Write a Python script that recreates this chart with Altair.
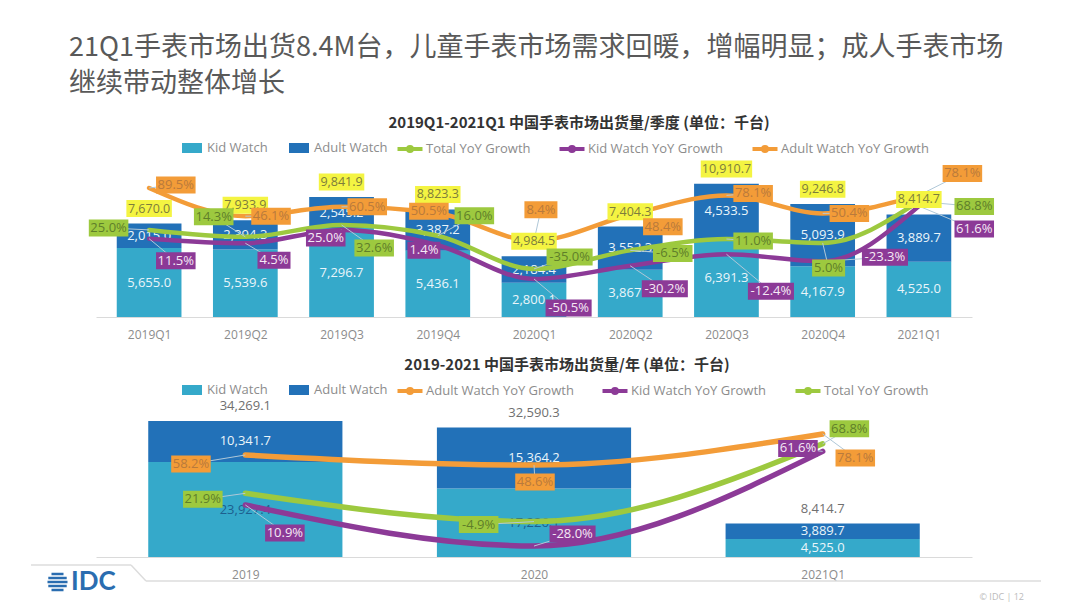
import json
import altair as alt
import pandas as pd

# ---------------- data ----------------
heading = ["21Q1手表市场出货8.4M台，儿童手表市场需求回暖，增幅明显；成人手表市场",
           "继续带动整体增长"]
q_title = "2019Q1-2021Q1 中国手表市场出货量/季度 (单位：千台)"
y_title = "2019-2021 中国手表市场出货量/年 (单位：千台)"

quarters = ["2019Q1", "2019Q2", "2019Q3", "2019Q4", "2020Q1",
            "2020Q2", "2020Q3", "2020Q4", "2021Q1"]
q_kid = [5655.0, 5539.6, 7296.7, 5436.1, 2800.1, 3867.0, 6391.3, 4167.9, 4525.0]
q_adult = [2015.0, 2394.3, 2545.2, 3387.2, 2184.4, 3552.3, 4533.5, 5093.9, 3889.7]
q_total = [7670.0, 7933.9, 9841.9, 8823.3, 4984.5, 7404.3, 10910.7, 9246.8, 8414.7]
q_total_yoy = [25.0, 14.3, 32.6, 16.0, -35.0, -6.5, 11.0, 5.0, 68.8]
q_kid_yoy = [11.5, 4.5, 25.0, 1.4, -50.5, -30.2, -12.4, -23.3, 61.6]
q_adult_yoy = [89.5, 46.1, 60.5, 50.5, 8.4, 48.4, 78.1, 50.4, 78.1]

years = ["2019", "2020", "2021Q1"]
y_kid = [23927.4, 17226.1, 4525.0]
y_adult = [10341.7, 15364.2, 3889.7]
y_total = [34269.1, 32590.3, 8414.7]
y_adult_yoy = [58.2, 48.6, 78.1]
y_kid_yoy = [10.9, -28.0, 61.6]
y_total_yoy = [21.9, -4.9, 68.8]

TOT = "Total YoY Growth"
KYOY = "Kid Watch YoY Growth"
AYOY = "Adult Watch YoY Growth"

# ---------------- layout / style ----------------
# callout offsets (px) of each growth label from its point
q_offsets = {
    AYOY: [(27, -3), (26, 0), (26, 0), (-9, -2), (7, -31), (33, 12), (27, -2), (27, 0), (44, -22)],
    TOT: [(-41, -2), (-32, -20), (33, 23), (37, -20), (36, -12), (43, 3), (27, 2), (6, 25), (56, 5)],
    KYOY: [(27, 22), (29, 17), (-16, 8), (-14, 5), (35, 29), (35, 23), (45, 37), (63, -4), (56, 23)],
}
y_offsets = {
    AYOY: [(-55, 9), (1, 17), (33, 24)],
    TOT: [(-43, 6), (-56, 3), (27, -15)],
    KYOY: [(40, 28), (39, -12), (-25, -3)],
}

FONT = "Open Sans, Noto Sans CJK SC, sans-serif"
CJK = "Noto Sans CJK SC, sans-serif"
KID = "#35A9CA"
ADULT = "#2271B8"
LINE_COL = {TOT: "#9DC93F", KYOY: "#8C3A97", AYOY: "#F39C38"}
BOX_TXT = {TOT: "#5F7F2A", KYOY: "#F5E9F5", AYOY: "#B97A3C"}
YELLOW = "#F4F442"
YELLOW_TXT = "#7D7D3C"
LIGHT = "#EAF5FA"
DARKBLUE = "#1D5F8F"
LEADER = "#B0C8D8"
GREY = "#8C8C8C"
IDC_BLUE = "#2A6DB0"

W = 876
BAR_SYM = "M-1,-0.5L1,-0.5L1,0.5L-1,0.5Z"
LINE_SYM = ("M-1.25,0L1.25,0M-0.2,0A0.2,0.2,0,1,1,0.2,0A0.2,0.2,0,1,1,-0.2,0")
GLOBE = ("M-0.6,-0.93L0.6,-0.93L0.6,-0.67L-0.6,-0.67Z"
         "M-0.92,-0.53L0.92,-0.53L0.92,-0.27L-0.92,-0.27Z"
         "M-1,-0.13L1,-0.13L1,0.13L-1,0.13Z"
         "M-0.92,0.27L0.92,0.27L0.92,0.53L-0.92,0.53Z"
         "M-0.6,0.67L0.6,0.67L0.6,0.93L-0.6,0.93Z")


def legend_common(**kw):
    base = dict(orient="none", direction="horizontal", title=None, symbolSize=400,
                labelFont=FONT, labelFontSize=13, labelColor=GREY,
                columnPadding=20, labelOffset=4)
    base.update(kw)
    return alt.Legend(**base)


def build_panel(cats, kid, adult, total, yoy, offsets, order, H, bar_max, line_dom,
                title, title_dx, leg_y, line_w, boxed_total, extra=()):
    n = len(cats)
    pxx = W / n
    pyb = H / bar_max
    pyl = H / (line_dom[1] - line_dom[0])
    xs = alt.Scale(domain=[-0.5, n - 0.5], nice=False, zero=False)
    ybs = alt.Scale(domain=[0, bar_max], nice=False)
    yls = alt.Scale(domain=line_dom, nice=False, zero=False)
    xaxis = alt.Axis(values=list(range(n)), labelExpr=f"{json.dumps(cats)}[datum.value]",
                     title=None, grid=False, ticks=False, tickSize=0, domainColor="#DADADA",
                     labelColor=GREY, labelFontSize=12, labelFont=FONT, labelPadding=12,
                     labelFlush=False, labelOverlap=False)

    def X(f):
        return alt.X(f, scale=xs, axis=xaxis)

    # bars
    rows = []
    for i in range(n):
        rows.append(dict(i=i, series="Kid Watch", y0=0.0, y1=kid[i], val=kid[i]))
        rows.append(dict(i=i, series="Adult Watch", y0=kid[i], y1=kid[i] + adult[i], val=adult[i]))
    dfb = pd.DataFrame(rows)
    dfb["mid"] = (dfb["y0"] + dfb["y1"]) / 2
    dfb["txt"] = [f"{v:,.1f}" for v in dfb["val"]]

    bars = alt.Chart(dfb).mark_bar(size=pxx * 0.665).encode(
        x=X("i:Q"),
        y=alt.Y("y1:Q", scale=ybs, axis=None), y2="y0:Q",
        color=alt.Color("series:N",
                        scale=alt.Scale(domain=["Kid Watch", "Adult Watch"], range=[KID, ADULT]),
                        legend=legend_common(legendX=85, legendY=leg_y, symbolType=BAR_SYM)),
    )
    btext = alt.Chart(dfb).mark_text(fontSize=13, font=FONT).encode(
        x=X("i:Q"), y=alt.Y("mid:Q", scale=ybs, axis=None), text="txt:N",
        color=alt.condition("datum.series == 'Kid Watch' && datum.val > 10000",
                            alt.value(DARKBLUE), alt.value(LIGHT)),
    )
    bar_group = alt.layer(bars, btext)

    # totals above the bars (drawn on top of the growth lines)
    dft = pd.DataFrame(dict(i=list(range(n)), total=total,
                            txt=[f"{v:,.1f}" for v in total]))
    tbase = alt.Chart(dft).transform_calculate(
        ty=f"datum.total + 15 / {pyb}",
        y1=f"datum.total + 6.5 / {pyb}",
        y2=f"datum.total + 23.5 / {pyb}",
        w="length(datum.txt) * 6 + 4",
    ).transform_calculate(
        x1=f"datum.i - datum.w / 2 / {pxx}",
        x2=f"datum.i + datum.w / 2 / {pxx}",
    )
    tot_layers = []
    if boxed_total:
        tot_layers.append(tbase.mark_rect(color=YELLOW).encode(
            x=X("x1:Q"), x2="x2:Q", y=alt.Y("y1:Q", scale=ybs, axis=None), y2="y2:Q"))
        tot_layers.append(tbase.mark_text(fontSize=12.5, font=FONT, color=YELLOW_TXT).encode(
            x=X("i:Q"), y=alt.Y("ty:Q", scale=ybs, axis=None), text="txt:N"))
    else:
        tot_layers.append(tbase.mark_text(fontSize=13, font=FONT, color="#707070").encode(
            x=X("i:Q"), y=alt.Y("ty:Q", scale=ybs, axis=None), text="txt:N"))
    tot_group = alt.layer(*tot_layers)

    # lines
    lrows, labrows = [], []
    for s in order:
        for i in range(n):
            lrows.append(dict(i=i, series=s, v=yoy[s][i]))
            dx, dy = offsets[s][i]
            labrows.append(dict(i=i, series=s, v=yoy[s][i], dx=dx, dy=dy,
                                txt=f"{yoy[s][i]:.1f}%"))
    dfl = pd.DataFrame(lrows)
    dflab = pd.DataFrame(labrows)

    lines = alt.Chart(dfl).mark_line(interpolate="monotone", strokeWidth=line_w,
                                     strokeCap="round").encode(
        x=X("i:Q"), y=alt.Y("v:Q", scale=yls, axis=None),
        stroke=alt.Stroke("series:N",
                          scale=alt.Scale(domain=order, range=[LINE_COL[s] for s in order]),
                          legend=legend_common(legendX=302, legendY=leg_y, symbolType=LINE_SYM,
                                               symbolStrokeWidth=4)),
        order="i:Q",
    )
    lab = alt.Chart(dflab).transform_calculate(
        cx=f"datum.i + datum.dx / {pxx}",
        cy=f"datum.v - datum.dy / {pyl}",
        w="length(datum.txt) * 6.6 + 7",
    ).transform_calculate(
        x1=f"datum.cx - datum.w / 2 / {pxx}",
        x2=f"datum.cx + datum.w / 2 / {pxx}",
        y1=f"datum.cy - 8.5 / {pyl}",
        y2=f"datum.cy + 8.5 / {pyl}",
    )
    leaders = lab.mark_rule(color=LEADER, strokeWidth=1).encode(
        x=X("i:Q"), x2="cx:Q", y=alt.Y("v:Q", scale=yls, axis=None), y2="cy:Q")
    line_layers = [lines, leaders]
    lab_layers = []
    for s in order:
        sub = lab.transform_filter(f"datum.series == '{s}'")
        lab_layers.append(sub.mark_rect(color=LINE_COL[s]).encode(
            x=X("x1:Q"), x2="x2:Q", y=alt.Y("y1:Q", scale=yls, axis=None), y2="y2:Q"))
        lab_layers.append(sub.mark_text(fontSize=13, font=FONT, color=BOX_TXT[s]).encode(
            x=X("cx:Q"), y=alt.Y("cy:Q", scale=yls, axis=None), text="txt:N"))
    line_group = alt.layer(*line_layers)
    lab_group = alt.layer(*lab_layers)

    groups = [bar_group, line_group, tot_group, lab_group] + list(extra)
    return alt.layer(*groups).resolve_scale(y="independent").properties(
        width=W, height=H,
        title=alt.TitleParams(text=title, font=CJK, fontSize=15, fontWeight="bold",
                              color="#333333", anchor="middle", dx=title_dx, offset=6),
    )


# footer decorations (page furniture, not data)
one = pd.DataFrame({"k": [0]})
footer = alt.layer(
    alt.Chart(one).mark_rule(color="#DCDCDC", strokeWidth=1.5).encode(
        x=alt.value(-65), x2=alt.value(35), y=alt.value(166)),
    alt.Chart(one).mark_rule(color="#DCDCDC", strokeWidth=1.5).encode(
        x=alt.value(35), x2=alt.value(50), y=alt.value(166), y2=alt.value(182)),
    alt.Chart(one).mark_rule(color="#DCDCDC", strokeWidth=1.5).encode(
        x=alt.value(50), x2=alt.value(945), y=alt.value(182)),
    alt.Chart(one).mark_point(shape=GLOBE, filled=True, size=400, color=IDC_BLUE, opacity=1).encode(
        x=alt.value(-38.5), y=alt.value(183)),
    alt.Chart(one).mark_text(text="IDC", font="Lato, Open Sans, sans-serif", fontSize=26,
                             fontWeight="bold", color=IDC_BLUE, align="left",
                             baseline="middle").encode(x=alt.value(-25), y=alt.value(183)),
    alt.Chart(one).mark_text(text="© IDC  |  12", font=FONT, fontSize=9, color="#BBBBBB",
                             align="right", baseline="middle").encode(
        x=alt.value(928), y=alt.value(198)),
)

top = build_panel(quarters, q_kid, q_adult, q_total,
                  {TOT: q_total_yoy, KYOY: q_kid_yoy, AYOY: q_adult_yoy},
                  q_offsets, [TOT, KYOY, AYOY], 156, 12800, [-109, 131],
                  q_title, 45, -24, 4.5, True)
bottom = build_panel(years, y_kid, y_adult, y_total,
                     {TOT: y_total_yoy, KYOY: y_kid_yoy, AYOY: y_adult_yoy},
                     y_offsets, [AYOY, KYOY, TOT], 158, 39800, [-38.4, 111.2],
                     y_title, 33, -20, 5.5, False, extra=[footer])

chart = alt.vconcat(
    top, bottom, spacing=82, bounds="flush",
    title=alt.TitleParams(text=heading, anchor="start", frame="group", dx=-27, font=CJK,
                          fontSize=27, fontWeight="normal", color="#595959", lineHeight=36,
                          offset=18),
).resolve_scale(color="independent", stroke="independent").properties(
    padding={"left": 22, "top": 26, "right": 5, "bottom": 0}
).configure(
    background="white", font=FONT,
    view=alt.ViewConfig(strokeWidth=0, stroke="transparent"),
)

chart.save("out.html", embed_options={"renderer": "svg", "actions": False})
